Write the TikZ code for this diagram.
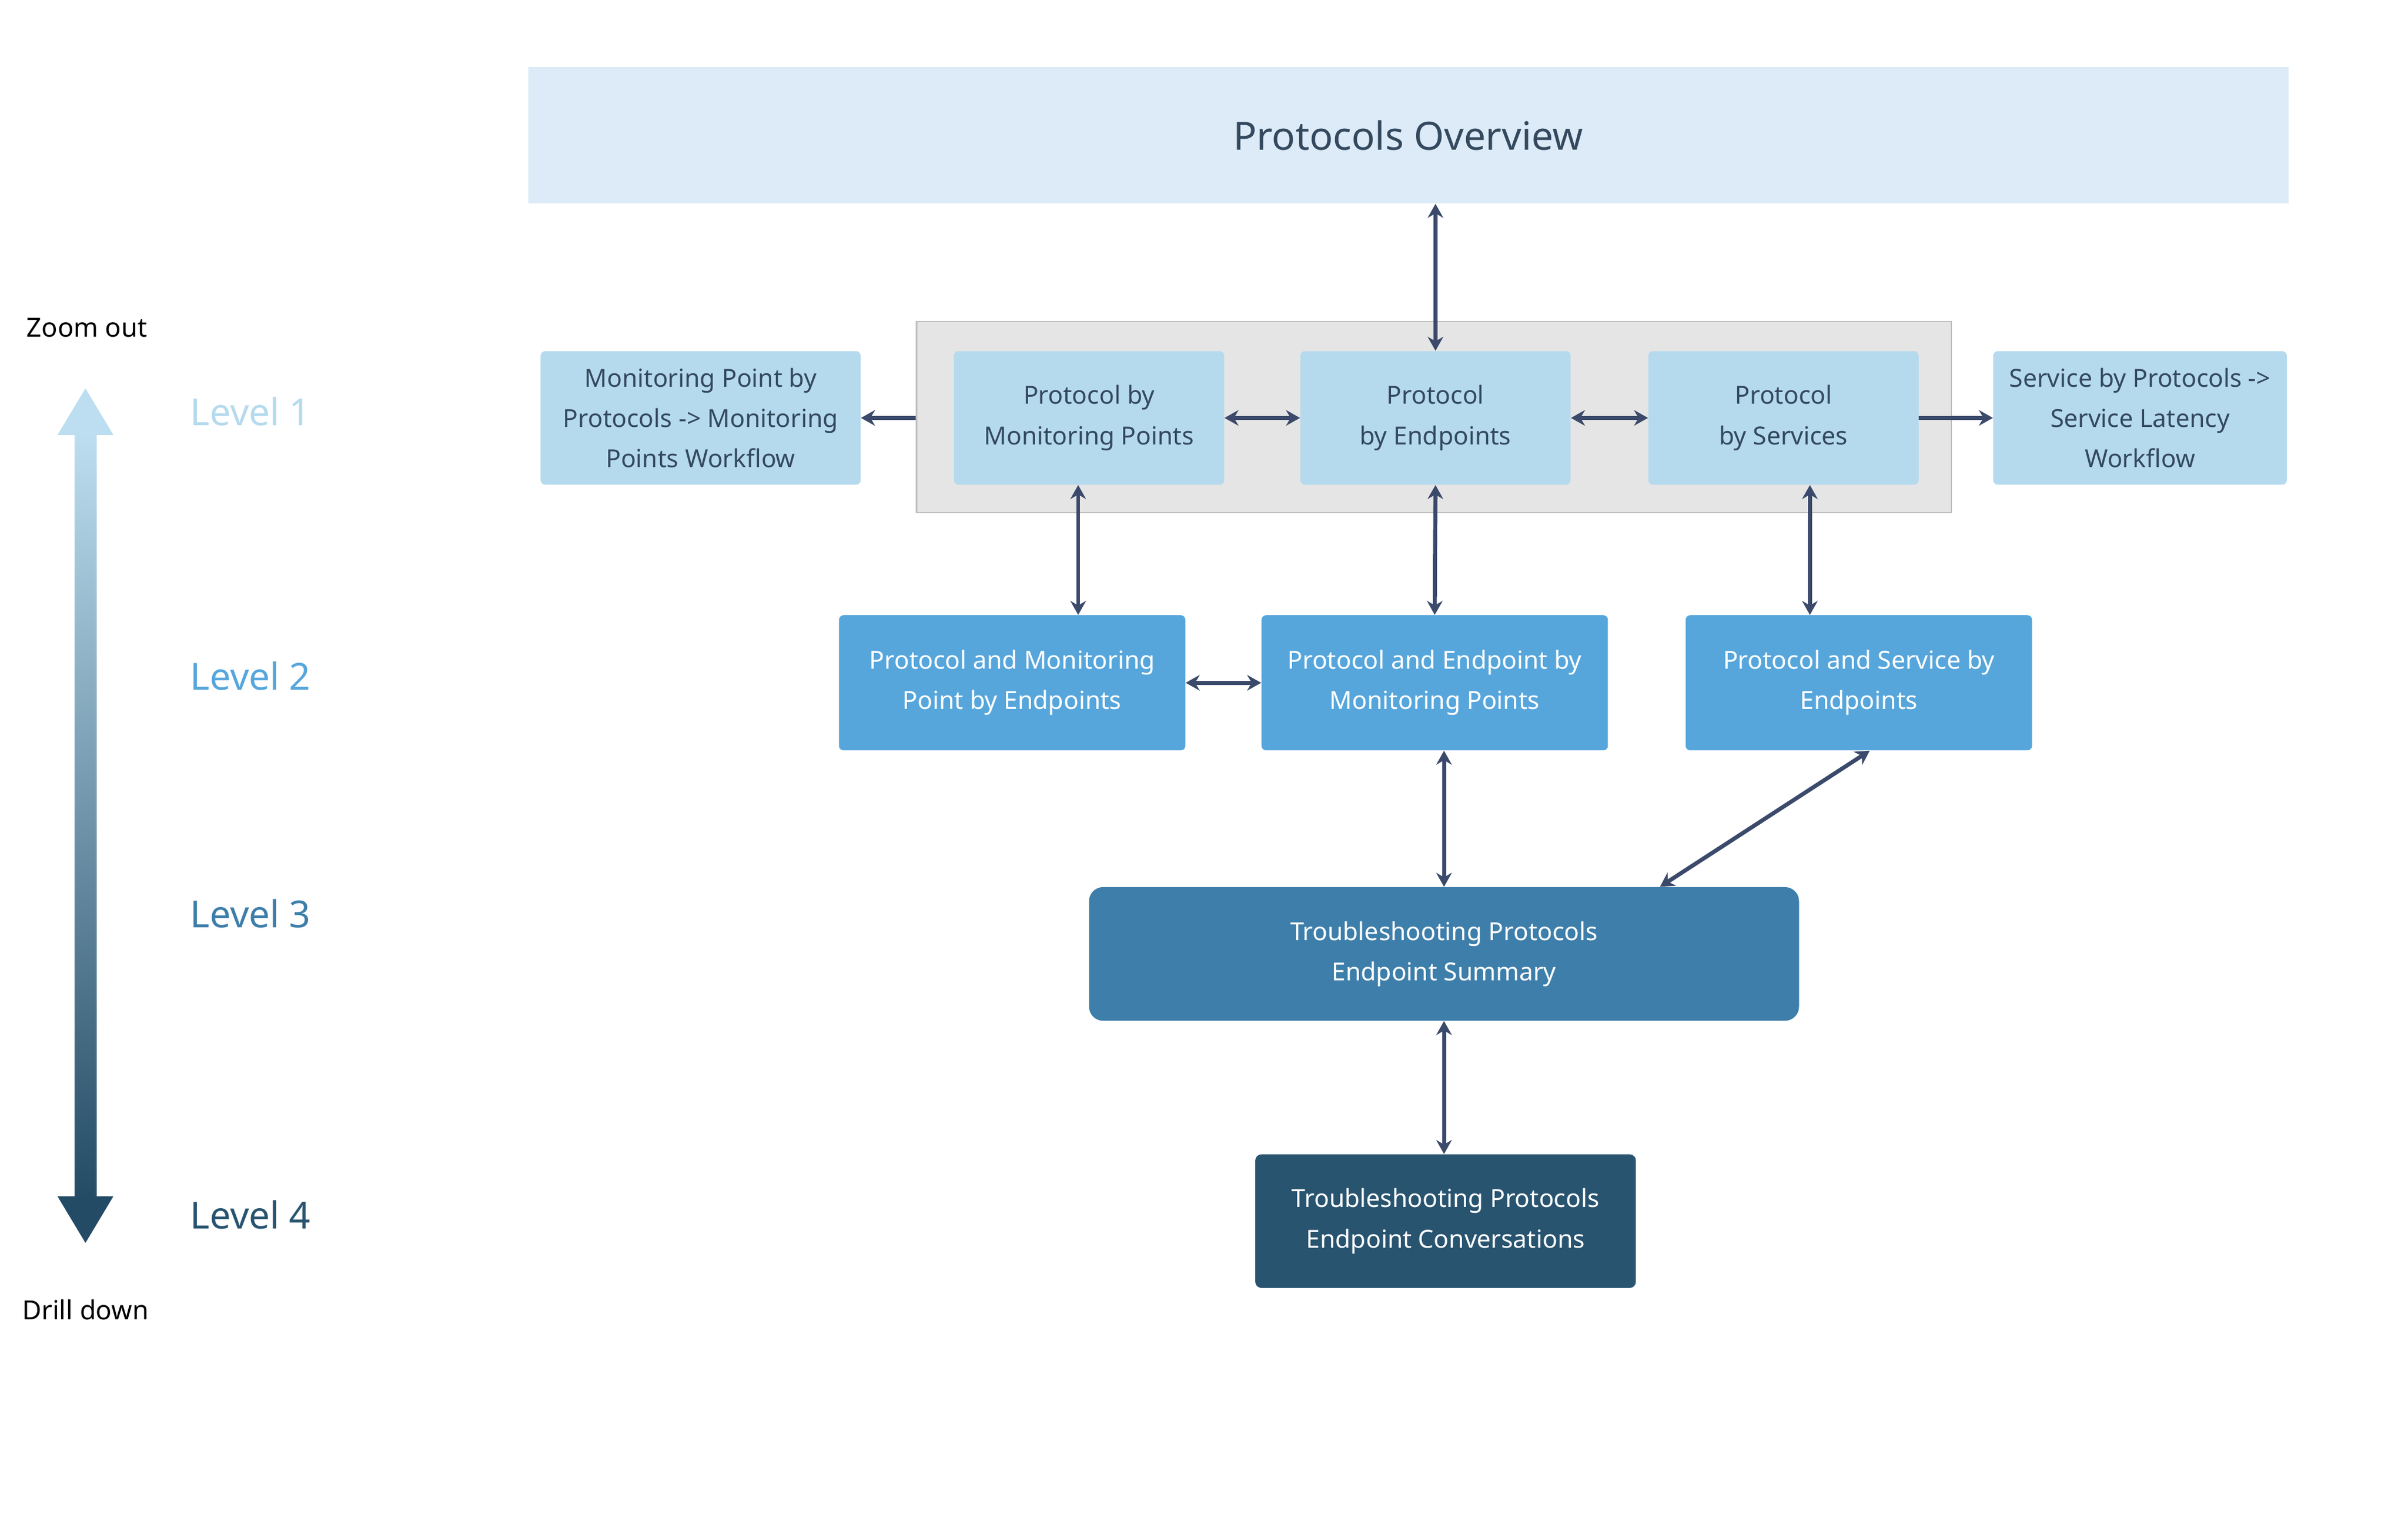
\documentclass[tikz,border=0pt]{standalone}
\usepackage{fontspec}
\setmainfont{Noto Sans}
\usetikzlibrary{arrows.meta}
\definecolor{lvA}{HTML}{B5DAEE}
\definecolor{lvB}{HTML}{56A6DC}
\definecolor{lvC}{HTML}{3D7EAA}
\definecolor{lvD}{HTML}{285470}
\definecolor{ovw}{HTML}{DCEBF7}
\definecolor{arr}{HTML}{3B4A6B}
\definecolor{ink}{HTML}{34495E}
\begin{document}
\begin{tikzpicture}[x=1pt,y=-1pt,
 box/.style={rounded corners=3pt,align=center,font=\fontsize{16}{26}\selectfont,inner sep=0pt},
 l1/.style={box,fill=lvA,text=ink},
 l2/.style={box,fill=lvB,text=white},
 con/.style={draw=arr,line width=2.6pt,{Stealth[length=9pt,width=10pt]}-{Stealth[length=9pt,width=10pt]}},
 one/.style={draw=arr,line width=2.6pt,-{Stealth[length=9pt,width=10pt]}},
 lev/.style={anchor=west,font=\fontsize{24}{28}\selectfont}]
\useasboundingbox (0,0) rectangle (1550,977);
\node[fill=ovw,minimum width=1133pt,minimum height=88pt,inner sep=0pt,text=ink,font=\fontsize{25}{30}\selectfont] (ov) at (906.5,87) {Protocols Overview};
\node[fill=black!10,draw=black!25,line width=1pt,minimum width=666pt,minimum height=123pt,inner sep=0pt] (gb) at (923,268.5) {};
\node[l1,minimum width=206pt,minimum height=86pt] (mp) at (451,269) {Monitoring Point by\\Protocols -> Monitoring\\Points Workflow};
\node[l1,minimum width=174pt,minimum height=86pt] (pm) at (701,269) {Protocol by\\Monitoring Points};
\node[l1,minimum width=174pt,minimum height=86pt] (pe) at (924,269) {Protocol\\by Endpoints};
\node[l1,minimum width=174pt,minimum height=86pt] (ps) at (1148,269) {Protocol\\by Services};
\node[l1,minimum width=189pt,minimum height=86pt] (sp) at (1377.5,269) {Service by Protocols ->\\Service Latency\\Workflow};
\node[l2,minimum width=223pt,minimum height=87pt] (a) at (651.5,439.5) {Protocol and Monitoring\\Point by Endpoints};
\node[l2,minimum width=223pt,minimum height=87pt] (b) at (923.5,439.5) {Protocol and Endpoint by\\Monitoring Points};
\node[l2,minimum width=223pt,minimum height=87pt] (c) at (1196.5,439.5) {Protocol and Service by\\Endpoints};
\node[box,rounded corners=9pt,fill=lvC,text=white,minimum width=457pt,minimum height=86pt] (t) at (929.5,614) {Troubleshooting Protocols\\Endpoint Summary};
\node[box,rounded corners=4pt,fill=lvD,text=white,minimum width=245pt,minimum height=86pt] (u) at (930.5,786) {Troubleshooting Protocols\\Endpoint Conversations};
% connectors
\draw[con] (ov.south -| pe) -- (pe.north);
\draw[one] (gb.west |- pm) -- (mp.east);
\draw[con] (pm) -- (pe);
\draw[con] (pe) -- (ps);
\draw[one] (ps) -- (sp);
\draw[con] ([xshift=-7pt]pm.south) -- ([xshift=-7pt]a.north -| pm.south);
\draw[con] (pe.south) -- (b.north);
\draw[con] ([xshift=17pt]ps.south) -- ([xshift=17pt]ps.south |- c.north);
\draw[con] (a) -- (b);
\draw[con] ([xshift=6pt]b.south) -- ([xshift=6pt]b.south |- t.north);
\draw[con] ([xshift=7pt]c.south) -- ([xshift=139pt]t.north);
\draw[con] (t.south) -- (t.south |- u.north);
% left scale
\shade[top color=lvA!90!white,bottom color=lvD!90!black] (48,279) rectangle (62,771);
\fill[lvA!90!white] (37,280) -- (55,250) -- (73,280) -- cycle;
\fill[lvD!90!black] (37,770) -- (55,800) -- (73,770) -- cycle;
\node[font=\fontsize{17}{20}\selectfont] (zo) at (56,211) {Zoom out};
\node[font=\fontsize{17}{20}\selectfont] (dd) at (55,843) {Drill down};
\node[lev,text=lvA] (l1) at (119,265) {Level 1};
\node[lev,text=lvB] (l2) at (119,435) {Level 2};
\node[lev,text=lvC] (l3) at (119,588) {Level 3};
\node[lev,text=lvD] (l4) at (119,782) {Level 4};
\end{tikzpicture}
\end{document}
